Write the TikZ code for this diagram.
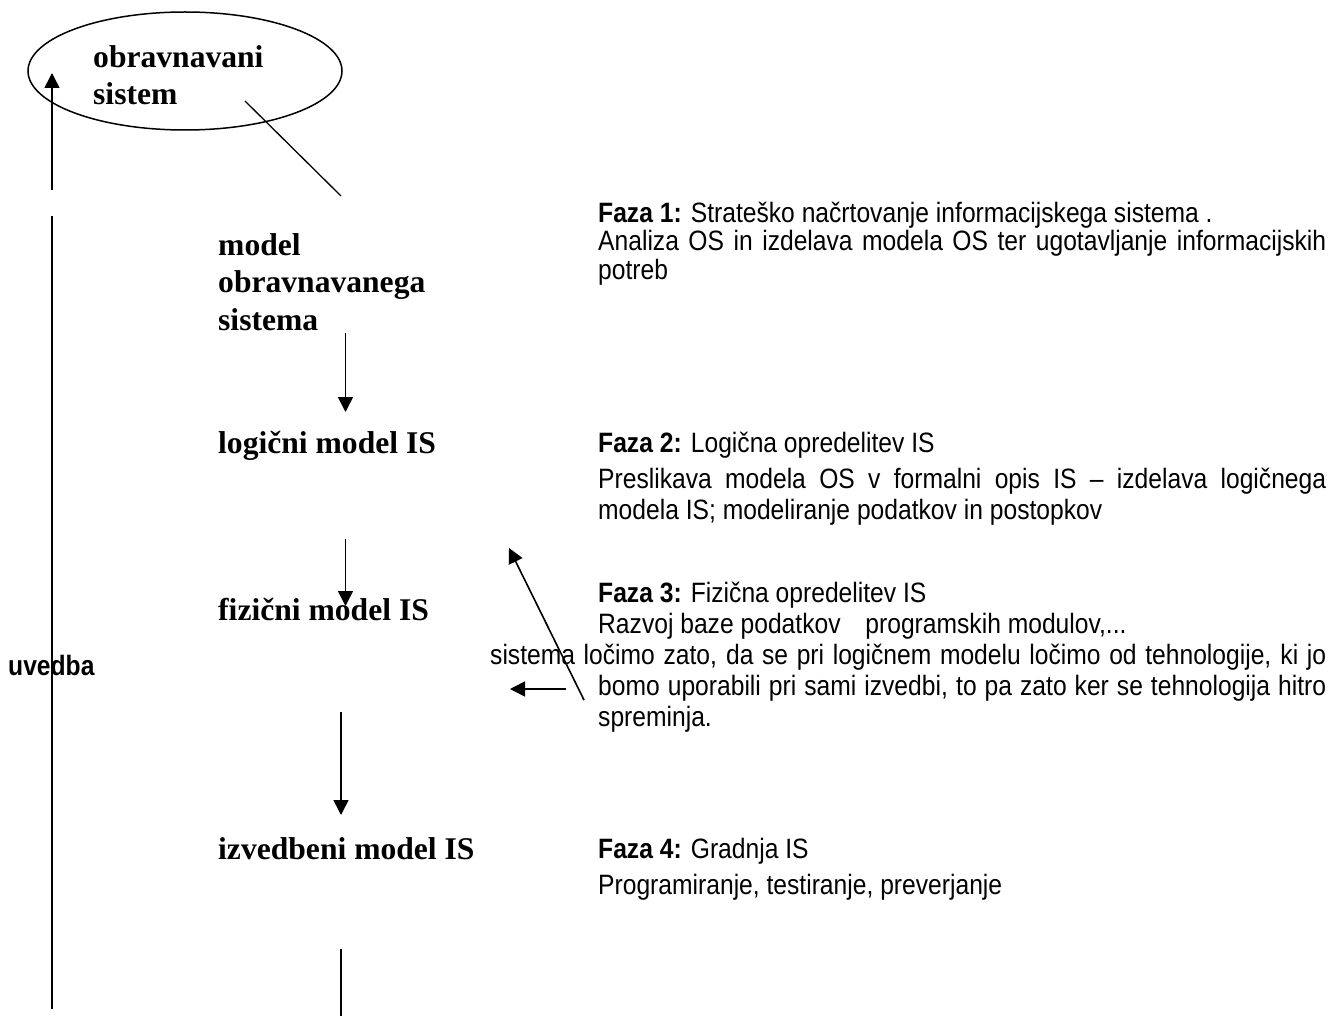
\documentclass[tikz,border=0pt]{standalone}
\usepackage{fontspec}
\setmainfont{Liberation Serif}
\newfontfamily\narrowsans[FakeStretch=0.88]{Liberation Sans}
\usetikzlibrary{positioning,arrows.meta,shapes.geometric}

\tikzset{
  modeltext/.style={anchor=base west,inner sep=0pt,font=\fontsize{31.6}{37}\selectfont\bfseries},
  fazatext/.style={anchor=base west,inner sep=0pt,font=\narrowsans\fontsize{28}{31}\selectfont},
  arr/.style={-{Triangle[width=15pt,length=15pt]},line width=1.6pt},
  bare/.style={line width=1.6pt}
}

\begin{document}
\begin{tikzpicture}[x=1pt,y=-1pt]
  \useasboundingbox (0,0) rectangle (1338,1016);
  % obravnavani sistem
  \node[draw,ellipse,line width=1.5pt,minimum width=314pt,minimum height=118pt] (os) at (185,71) {};
  \node[modeltext] (ostxt) at (93,68) {\parbox[t]{220pt}{obravnavani\\sistem}};

  % modeli
  \node[modeltext] (mos) at (218,256) {\parbox[t]{260pt}{model\\obravnavanega\\sistema}};
  \node[modeltext] (lm) at (218,453) {logični model IS};
  \node[modeltext] (fm) at (218,620) {fizični model IS};
  \node[modeltext] (im) at (218,859) {izvedbeni model IS};

  % faze
  \node[fazatext] (f1) at (598,223) {\textbf{Faza 1:} Strateško načrtovanje informacijskega sistema .};
  \node[fazatext] (f1b) at (598,251) {\parbox[t]{728pt}{\baselineskip=29pt Analiza OS in izdelava modela OS ter ugotavljanje informacijskih\linebreak potreb}};
  \node[fazatext] (f2) at (598,452) {\textbf{Faza 2:} Logična opredelitev IS};
  \node[fazatext] (f2b) at (598,488) {\parbox[t]{728pt}{Preslikava modela OS v formalni opis IS – izdelava logičnega\linebreak modela IS; modeliranje podatkov in postopkov}};
  \node[fazatext] (f3) at (598,602) {\textbf{Faza 3:} Fizična opredelitev IS};
  \node[fazatext] (f3b) at (598,633) {Razvoj baze podatkov\hspace{18pt} programskih modulov,...};
  \node[fazatext] (f3c) at (490,664) {\makebox[836pt][s]{sistema ločimo zato, da se pri logičnem modelu ločimo od tehnologije, ki jo}};
  \node[fazatext] (f3d) at (598,695) {\parbox[t]{728pt}{\makebox[728pt][s]{bomo uporabili pri sami izvedbi, to pa zato ker se tehnologija hitro}\\spreminja.}};
  \node[fazatext] (f4) at (598,858) {\textbf{Faza 4:} Gradnja IS};
  \node[fazatext] (f4b) at (598,894) {Programiranje, testiranje, preverjanje};

  \node[fazatext,font=\narrowsans\fontsize{28}{31}\selectfont\bfseries] (uv) at (8,675) {uvedba};

  % povezave
  \coordinate (up0) at (52,190);
  \coordinate (up1) at (52,73);
  \coordinate (lt0) at (52,216);
  \coordinate (lt1) at (52,1009);
  \coordinate (dg0) at (245,101);
  \coordinate (dg1) at (341,196);
  \coordinate (a1s) at (345.5,333);
  \coordinate (a1e) at (345.5,412);
  \coordinate (a2s) at (345.5,539);
  \coordinate (a2e) at (345.5,606);
  \coordinate (a3s) at (341,712);
  \coordinate (a3e) at (341,815);
  \coordinate (l4s) at (341,949);
  \coordinate (l4e) at (341,1016);
  \coordinate (bk0) at (584,700);
  \coordinate (bk1) at (509,548);
  \coordinate (lf0) at (566,689);
  \coordinate (lf1) at (510,689);

  \draw[arr] (up0) -- (up1);
  \draw[bare] (lt0) -- (lt1);
  \draw[bare,line width=1.3pt] (dg0) -- (dg1);
  \draw[arr] (a1s) -- (a1e);
  \draw[arr] (a2s) -- (a2e);
  \draw[arr] (a3s) -- (a3e);
  \draw[bare] (l4s) -- (l4e);
  \draw[arr] (bk0) -- (bk1);
  \draw[arr] (lf0) -- (lf1);
\end{tikzpicture}
\end{document}
